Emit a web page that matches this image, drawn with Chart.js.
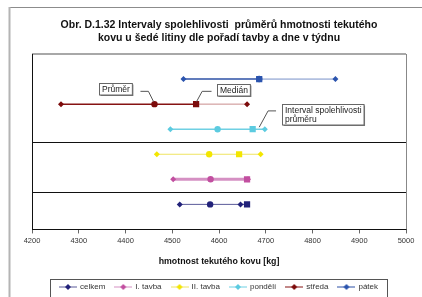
<!DOCTYPE html>
<html>
<head>
<meta charset="utf-8">
<script src="https://cdn.jsdelivr.net/npm/chart.js@4"></script>
<style>
  html, body { margin: 0; padding: 0; background: #fff; overflow: hidden; }
  #wrap { width: 422px; height: 301px; position: relative; }
</style>
</head>
<body>
<div id="wrap"><canvas id="chart"></canvas></div>
<script>
// rows, bottom to top
const seriesNames = ['celkem', 'I. tavba', 'II. tavba', 'pondělí', 'středa', 'pátek'];
const rowIndex = [1, 2, 3, 4, 5, 6];

// kg
const ciLow   = [4516, 4502, 4467, 4496, 4262, 4524];
const means   = [4581, 4582, 4579, 4597, 4462, 4686];
const medians = [4660, 4660, 4643, 4672, 4551, 4686];
const ciHigh  = [4646, 4662, 4689, 4698, 4660, 4849];

const xMin = 4200;
const xMax = 5000;
const xStep = 100;
const groupBreaks = [1.5, 3.5];

// callout boxes: text + anchor in data units
const callouts = [
  { lines: ['Průměr'], left: 4344, mid: 5.61, path: [[4432, 5.51], [4449, 5.51], [4460, 5.1]] },
  { lines: ['Medián'], left: 4596, mid: 5.57, path: [[4584, 5.51], [4564, 5.51], [4552, 5.1]] },
  { lines: ['Interval spolehlivosti', 'průměru'], left: 4735, mid: 4.61, path: [[4722, 4.73], [4705, 4.73], [4686, 4.08]] }
];

// styles
const markerColors = ['#22227a', '#c24fa0', '#f3e600', '#5ccbe0', '#7c0b0b', '#2b54ae'];
const lineColors   = ['#5b5b99', '#d590c3', '#efe460', '#6fd0e3', '#861313', '#2d50a6'];
const tailColors   = [null, null, null, null, '#c98c8c', '#7890c8'];
const lineWidths   = [1, 3, 1, 1.5, 1.5, 1.5];
const FONT = '"Liberation Sans", Arial, sans-serif';

Chart.defaults.font.family = FONT;
Chart.defaults.color = '#222';

const legendIcon = (i) => {
  const c = document.createElement('canvas');
  c.width = 18; c.height = 8;
  const g = c.getContext('2d');
  g.strokeStyle = lineColors[i];
  g.lineWidth = 1;
  g.beginPath(); g.moveTo(0, 4); g.lineTo(18, 4); g.stroke();
  g.fillStyle = markerColors[i];
  g.beginPath(); g.moveTo(9, 1); g.lineTo(12, 4); g.lineTo(9, 7); g.lineTo(6, 4); g.closePath(); g.fill();
  return c;
};

const datasets = seriesNames.map((name, i) => ({
  label: name,
  data: [
    { x: ciLow[i], y: rowIndex[i] },
    { x: means[i], y: rowIndex[i] },
    { x: medians[i], y: rowIndex[i] },
    { x: ciHigh[i], y: rowIndex[i] }
  ],
  showLine: true,
  borderColor: lineColors[i],
  borderWidth: lineWidths[i],
  backgroundColor: markerColors[i],
  pointBackgroundColor: markerColors[i],
  pointBorderColor: markerColors[i],
  pointBorderWidth: 0,
  pointStyle: ['rectRot', 'circle', 'rect', 'rectRot'],
  pointRadius: [3, 3.2, 4.4, 3],
  segment: {
    borderColor: (ctx) => (ctx.p0DataIndex === 2 && tailColors[i]) ? tailColors[i] : undefined,
    borderWidth: (ctx) => (ctx.p0DataIndex === 2 && tailColors[i]) ? 1 : undefined
  }
}));

const framePlugin = {
  id: 'frame',
  beforeDraw(chart) {
    const { ctx, width, height } = chart;
    ctx.save();
    ctx.fillStyle = '#fff';
    ctx.fillRect(0, 0, width, height);
    // outer chart frame
    ctx.strokeStyle = '#8c8c8c';
    ctx.lineWidth = 1;
    ctx.beginPath(); ctx.moveTo(9, 7.5); ctx.lineTo(width, 7.5); ctx.stroke();
    ctx.strokeStyle = '#b4b4b4';
    ctx.lineWidth = 2;
    ctx.beginPath(); ctx.moveTo(9.5, 7); ctx.lineTo(9.5, height); ctx.stroke();
    ctx.restore();
  },
  beforeDatasetsDraw(chart) {
    const { ctx, chartArea: a, scales } = chart;
    ctx.save();
    ctx.strokeStyle = '#a8a8a8';
    ctx.lineWidth = 2;
    ctx.beginPath(); ctx.moveTo(a.left, a.top); ctx.lineTo(a.right, a.top); ctx.stroke();
    ctx.strokeStyle = '#888';
    ctx.lineWidth = 1;
    ctx.beginPath(); ctx.moveTo(a.right + 0.5, a.top); ctx.lineTo(a.right + 0.5, a.bottom); ctx.stroke();
    ctx.strokeStyle = '#111';
    ctx.beginPath(); ctx.moveTo(a.left + 0.5, a.top); ctx.lineTo(a.left + 0.5, a.bottom); ctx.stroke();
    groupBreaks.forEach((v) => {
      const y = Math.round(scales.y.getPixelForValue(v)) + 0.5;
      ctx.beginPath(); ctx.moveTo(a.left, y); ctx.lineTo(a.right, y); ctx.stroke();
    });
    ctx.restore();
  },
  afterDraw(chart) {
    const { ctx, scales, legend } = chart;
    const sx = scales.x, sy = scales.y;
    ctx.save();
    // callouts
    ctx.font = '8.5px ' + FONT;
    ctx.textBaseline = 'middle';
    callouts.forEach((c) => {
      ctx.strokeStyle = '#555';
      ctx.lineWidth = 1;
      ctx.beginPath();
      c.path.forEach(([vx, vy], k) => {
        const px = sx.getPixelForValue(vx), py = sy.getPixelForValue(vy);
        if (k === 0) ctx.moveTo(px, py); else ctx.lineTo(px, py);
      });
      ctx.stroke();
      const lh = 9;
      const w = Math.max(...c.lines.map((t) => ctx.measureText(t).width)) + 5;
      const h = c.lines.length * lh + 2.5;
      const x = Math.round(sx.getPixelForValue(c.left)) + 0.5;
      const y = Math.round(sy.getPixelForValue(c.mid) - h / 2) + 0.5;
      ctx.fillStyle = '#777';
      ctx.fillRect(x + 1, y + 1, w, h);
      ctx.fillStyle = '#fff';
      ctx.fillRect(x, y, w, h);
      ctx.strokeStyle = '#666';
      ctx.strokeRect(x, y, w, h);
      ctx.fillStyle = '#222';
      c.lines.forEach((t, k) => ctx.fillText(t, x + 2.5, y + 1.5 + lh / 2 + k * lh));
    });
    // legend frame
    const hb = legend.legendHitBoxes;
    if (hb && hb.length) {
      const first = hb[0], last = hb[hb.length - 1];
      const l = Math.round(first.left - 10) + 0.5;
      const r = Math.round(last.left + last.width + 9) + 0.5;
      const t = Math.round(first.top - 4) + 0.5;
      ctx.strokeStyle = '#555';
      ctx.lineWidth = 1;
      ctx.strokeRect(l, t, r - l, 40);
    }
    ctx.restore();
  }
};

new Chart(document.getElementById('chart'), {
  type: 'scatter',
  data: { datasets },
  plugins: [framePlugin],
  options: {
    responsive: true,
    maintainAspectRatio: false,
    animation: false,
    layout: { padding: { top: 9, left: 32, right: 16, bottom: 0 } },
    scales: {
      x: {
        type: 'linear',
        min: xMin,
        max: xMax,
        ticks: { stepSize: xStep, padding: 3, color: '#333', font: { size: 7.5 }, callback: (v) => String(v) },
        grid: { drawOnChartArea: false, tickLength: 4, color: '#666' },
        border: { color: '#111', width: 1 },
        title: {
          display: true,
          text: 'hmotnost tekutého kovu [kg]',
          color: '#111',
          font: { size: 8.8, weight: 'bold' },
          padding: { top: 8, bottom: 6 }
        }
      },
      y: { display: false, min: 0, max: 7 }
    },
    plugins: {
      title: {
        display: true,
        text: ['Obr. D.1.32 Intervaly spolehlivosti  průměrů hmotnosti tekutého', 'kovu u šedé litiny dle pořadí tavby a dne v týdnu'],
        color: '#111',
        font: { size: 10.5, weight: 'bold', lineHeight: '12.5px' },
        padding: { top: 10, bottom: 10 }
      },
      legend: {
        position: 'bottom',
        labels: {
          usePointStyle: true,
          pointStyleWidth: 16,
          padding: 10,
          color: '#333',
          font: { size: 8 },
          generateLabels(chart) {
            const items = Chart.defaults.plugins.legend.labels.generateLabels(chart);
            items.forEach((it, i) => { it.pointStyle = legendIcon(i); });
            return items;
          }
        }
      },
      tooltip: { enabled: false }
    }
  }
});
</script>
</body>
</html>
